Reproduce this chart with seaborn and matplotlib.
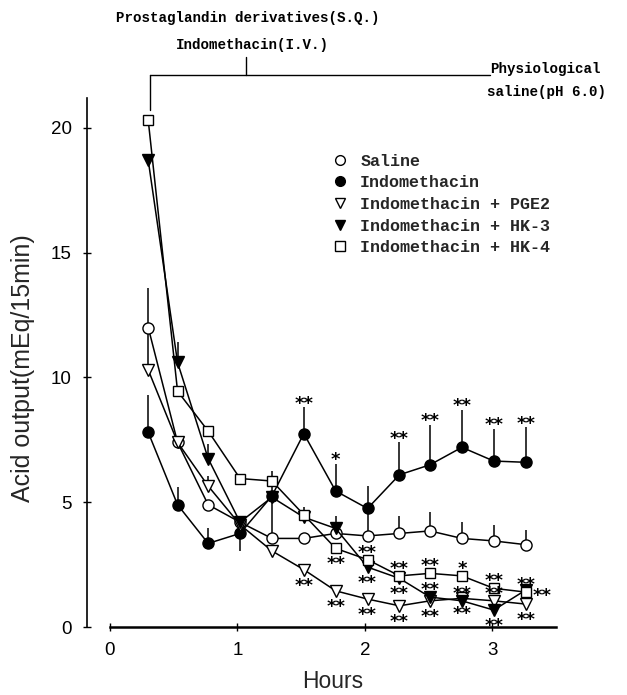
import matplotlib
matplotlib.use("Agg")
import matplotlib.pyplot as plt
from matplotlib.lines import Line2D
import seaborn as sns

hours = [0.30, 0.53, 0.77, 1.02, 1.27, 1.52, 1.77, 2.02, 2.27, 2.51, 2.76, 3.01, 3.26]

saline = [12.0, 7.4, 4.9, 4.2, 3.55, 3.55, 3.75, 3.65, 3.75, 3.85, 3.55, 3.45, 3.3]
saline_err = [1.6, 0, 0, 0, 1.7, 0, 0, 1.0, 0.7, 0.75, 0.65, 0.65, 0.6]

indo = [7.8, 4.9, 3.35, 3.75, 5.25, 7.75, 5.45, 4.75, 6.1, 6.5, 7.2, 6.65, 6.6]
indo_err = [1.5, 0.7, 0.6, -0.7, 0.6, 1.05, 1.1, 0.9, 1.3, 1.6, 1.5, 1.3, 1.4]
indo_stars = ["", "", "", "", "", "**", "*", "", "**", "**", "**", "**", "**"]

pge2 = [10.3, 7.4, 5.65, 4.1, 3.05, 2.3, 1.45, 1.12, 0.85, 1.05, 1.15, 1.05, 0.92]
pge2_err = [1.6, 0, 0.4, 0, 0, 0, 0, 0, 0, 0, 0, 0, 0]
pge2_stars = ["", "", "", "", "", "**", "**", "**", "**", "**", "**", "**", "**"]
pge2_side = ["", "", "", "", "", "down", "down", "down", "down", "down", "down", "up", "down"]

hk3 = [18.7, 10.6, 6.75, 4.2, 5.2, 4.4, 3.95, 2.4, 1.95, 1.2, 1.05, 0.68, 1.48]
hk3_err = [0, 0.8, 0.6, 0, 0, 0, 0.5, 0, 0, 0, 0, 0, 0]
hk3_stars = ["", "", "", "", "", "", "", "**", "**", "**", "**", "**", "**"]
hk3_side = ["", "", "", "", "", "", "", "down", "down", "up", "up", "down", "right"]

hk4 = [20.3, 9.45, 7.85, 5.95, 5.85, 4.5, 3.15, 2.7, 2.05, 2.15, 2.05, 1.55, 1.4]
hk4_err = [0, 0, 0, 0, 0.4, 0.3, 0, 0, 0, 0, 0, 0, 0]
hk4_stars = ["", "", "", "", "", "", "**", "**", "**", "**", "*", "**", "**"]
hk4_side = ["", "", "", "", "", "", "down", "up", "up", "up", "up", "up", "up"]

labels = ["Saline", "Indomethacin", "Indomethacin + PGE2",
          "Indomethacin + HK-3", "Indomethacin + HK-4"]

sns.set_theme(style="white")
plt.rcParams["font.family"] = ["Liberation Sans", "DejaVu Sans"]

fig = plt.figure(figsize=(6.27, 6.95), dpi=100)
ax = fig.add_axes([0.1388, 0.0978, 0.7687, 0.8619])

series = [
    (saline, saline_err, "o", "white", 8),
    (indo, indo_err, "o", "black", 8),
    (pge2, pge2_err, "v", "white", 8.5),
    (hk3, hk3_err, "v", "black", 8.5),
    (hk4, hk4_err, "s", "white", 7.5),
]

for vals, err, m, fc, ms in series:
    tops = [v + e for v, e in zip(vals, err)]
    ax.vlines(hours, vals, tops, color="black", lw=1.1, zorder=1)
    sns.lineplot(x=hours, y=vals, ax=ax, sort=False, color="black", lw=1.1,
                 marker=m, markersize=ms, markerfacecolor=fc,
                 markeredgecolor="black", markeredgewidth=1.0, zorder=2)

star_kw = dict(textcoords="offset points", fontsize=13, fontweight="bold",
               family="DejaVu Sans", color="black", zorder=4)


def put_stars(vals, marks, sides, lift=1.5):
    for x, v, s, side in zip(hours, vals, marks, sides):
        if not s:
            continue
        if side == "up":
            ax.annotate(s, (x, v), xytext=(0, lift), ha="center", va="baseline", **star_kw)
        elif side == "down":
            ax.annotate(s, (x, v), xytext=(0, -5), ha="center", va="top", **star_kw)
        else:
            ax.annotate(s, (x, v), xytext=(5, -4), ha="left", va="center", **star_kw)


indo_tops = [v + max(e, 0) for v, e in zip(indo, indo_err)]
put_stars(indo_tops, indo_stars, ["up"] * len(hours), lift=-1)
put_stars(pge2, pge2_stars, pge2_side)
put_stars(hk3, hk3_stars, hk3_side)
put_stars(hk4, hk4_stars, hk4_side)

# treatment bracket above the curves
ax.plot([0.31, 2.98], [22.1, 22.1], color="black", lw=1.0, clip_on=False)
ax.plot([0.31, 0.31], [22.1, 20.7], color="black", lw=1.0, clip_on=False)
ax.plot([1.07, 1.07], [22.1, 22.85], color="black", lw=1.0, clip_on=False)
note_kw = dict(family="Liberation Mono", fontsize=10.2, fontweight="bold", color="black")
ax.text(1.08, 24.4, "Prostaglandin derivatives(S.Q.)", ha="center", va="center", **note_kw)
ax.text(1.12, 23.3, "Indomethacin(I.V.)", ha="center", va="center", **note_kw)
ax.text(2.98, 22.35, "Physiological", ha="left", va="center", **note_kw)
ax.text(2.96, 21.45, "saline(pH 6.0)", ha="left", va="center", **note_kw)

handles = [Line2D([], [], ls="none", marker=m, markersize=7, markerfacecolor=fc,
                  markeredgecolor="black", markeredgewidth=1.0)
           for _, _, m, fc, _ in series]
ax.legend(handles, labels, loc="upper left", bbox_to_anchor=(0.532, 0.779),
          bbox_transform=fig.transFigure, frameon=False, handlelength=0.8,
          handletextpad=0.8, labelspacing=0.4, borderpad=0, borderaxespad=0,
          prop={"family": "Liberation Mono", "size": 12, "weight": "bold"})

ax.set_xlim(-0.18, 3.6)
ax.set_ylim(0, 24)
ax.set_xticks([0, 1, 2, 3])
ax.set_yticks([0, 5, 10, 15, 20])
ax.tick_params(bottom=True, left=True, direction="inout", length=6, width=1,
               labelsize=13.5, pad=8, colors="black")
sns.despine(ax=ax)
ax.spines["left"].set_bounds(0, 21.2)
ax.spines["bottom"].set_bounds(0, 3.5)
ax.spines["left"].set_color("black")
ax.spines["bottom"].set_color("black")
ax.spines["left"].set_linewidth(1.2)
ax.spines["bottom"].set_linewidth(1.8)

ax.set_xlabel("Hours", fontsize=16.5)
ax.set_ylabel("Acid output(mEq/15min)", fontsize=18)
ax.xaxis.set_label_coords(0.51, -0.072)
ax.yaxis.set_label_coords(-0.108, 0.433)

fig.savefig("out.png", dpi=100)
